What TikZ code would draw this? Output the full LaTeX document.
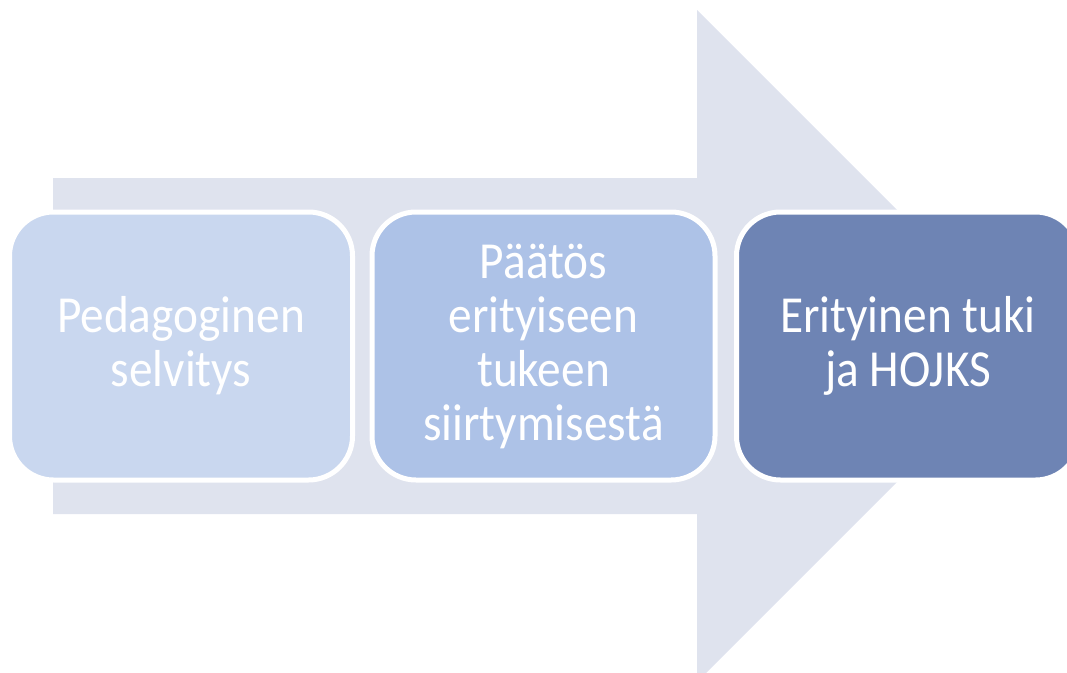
\documentclass[tikz,border=0pt]{standalone}
\usepackage{fontspec}
\setmainfont{Carlito}[FakeStretch=0.91]
\definecolor{arrowbg}{HTML}{DFE3EE}
\definecolor{boxa}{HTML}{C9D7EF}
\definecolor{boxb}{HTML}{ADC2E7}
\definecolor{boxc}{HTML}{6E84B4}
\tikzset{
  stagebox/.style={draw=white, line width=5pt, rounded corners=44pt,
    minimum width=343pt, minimum height=268pt, inner sep=0pt,
    text=white, align=center,
    font=\fontsize{52}{54}\selectfont},
}
\begin{document}
\begin{tikzpicture}[x=1pt,y=-1pt]
\useasboundingbox (0,0) rectangle (1067,672);
\clip (0,0) rectangle (1067,672);
\fill[arrowbg] (53,178) -- (697,178) -- (697,10) -- (1033,346) -- (697,682) -- (697,514) -- (53,514) -- cycle;
\node[stagebox, fill=boxa] (s1) at (181,346) {Pedagoginen\\selvitys};
\node[stagebox, fill=boxb] (s2) at (543.5,346) {Päätös\\erityiseen\\tukeen\\siirtymisestä};
\node[stagebox, fill=boxc] (s3) at (908,346) {Erityinen tuki\\ja HOJKS};
\end{tikzpicture}
\end{document}
